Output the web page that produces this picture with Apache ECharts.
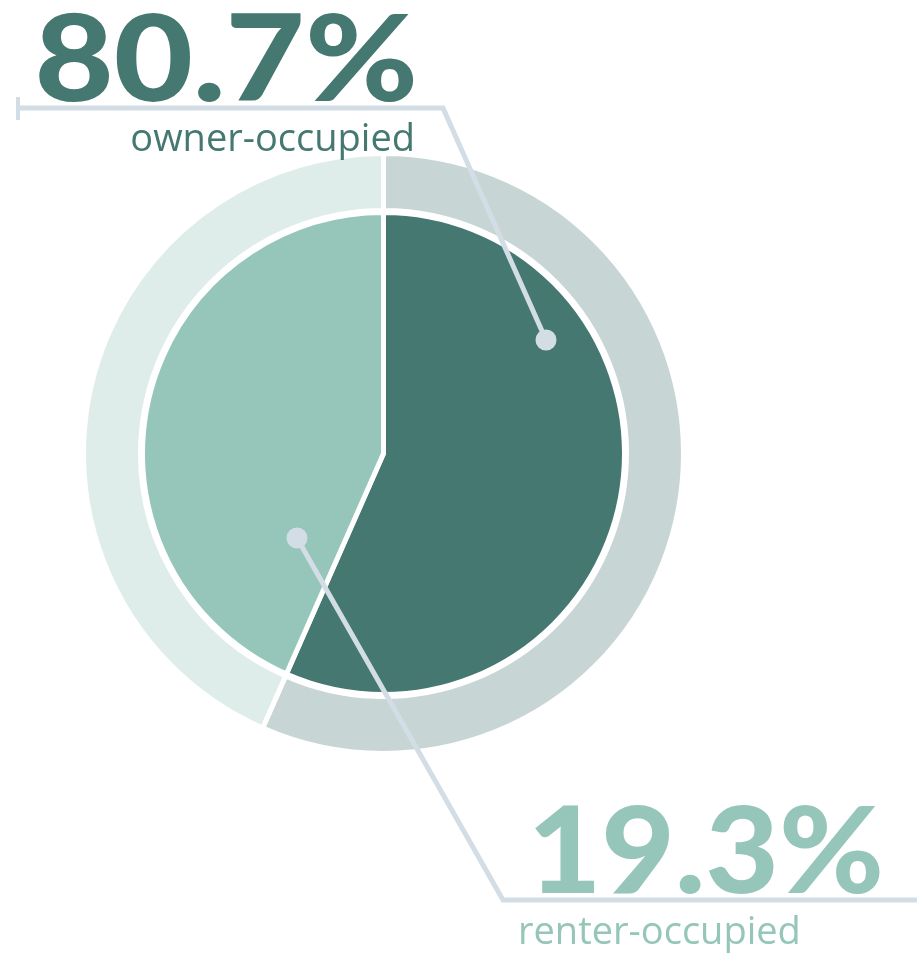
<!DOCTYPE html>
<html>
<head>
<meta charset="utf-8">
<script src="https://cdn.jsdelivr.net/npm/echarts@6/dist/echarts.min.js"></script>
<style>
  html, body { margin: 0; padding: 0; background: #fff; }
  #tenure { width: 917px; height: 953px; }
</style>
</head>
<body>
<div id="tenure"></div>
<script>
// housing tenure
var categories = ['owner-occupied', 'renter-occupied'];
// share of the circle each slice covers, as drawn
var sliceShares = [56.6, 43.4];
// headline figures printed beside the chart
var headlineValues = ['80.7%', '19.3%'];

var pieColors = ['#467872', '#95c6b9'];
var ringColors = ['#c7d6d5', '#deede9'];
var leaderColor = '#d3dde6';

var center = [383.5, 453.5];

function sliceData(colors) {
  return categories.map(function (name, i) {
    return { name: name, value: sliceShares[i], itemStyle: { color: colors[i] } };
  });
}

var myChart = echarts.init(document.getElementById('tenure'));
myChart.setOption({
  animation: false,
  series: [{
    // outer ring
    type: 'pie',
    silent: true,
    center: center,
    radius: [243, 300],
    startAngle: 90,
    clockwise: true,
    label: { show: false },
    labelLine: { show: false },
    itemStyle: { borderColor: '#fff', borderWidth: 5 },
    data: sliceData(ringColors)
  }, {
    // inner pie
    type: 'pie',
    silent: true,
    center: center,
    radius: [0, 241],
    startAngle: 90,
    clockwise: true,
    label: { show: false },
    labelLine: { show: false },
    itemStyle: { borderColor: '#fff', borderWidth: 5 },
    data: sliceData(pieColors)
  }],
  graphic: [
    { type: 'polyline', z: 10, shape: { points: [[546, 340], [443, 108], [18, 108]] },
      style: { stroke: leaderColor, lineWidth: 5, fill: null } },
    { type: 'line', z: 10, shape: { x1: 18, y1: 97, x2: 18, y2: 120 },
      style: { stroke: leaderColor, lineWidth: 4 } },
    { type: 'circle', z: 11, shape: { cx: 546, cy: 340, r: 10.5 }, style: { fill: leaderColor } },
    { type: 'polyline', z: 10, shape: { points: [[297, 538], [503, 900], [917, 900]] },
      style: { stroke: leaderColor, lineWidth: 5, fill: null } },
    { type: 'circle', z: 11, shape: { cx: 297, cy: 538, r: 10.5 }, style: { fill: leaderColor } },
    // big headline numbers, stretched a little to the width of the original typeface
    { type: 'text', z: 12, x: 418, y: 122, scaleX: 1.13,
      style: { text: headlineValues[0], fill: pieColors[0], fontFamily: 'Lato', fontWeight: 900,
               fontSize: 121, align: 'right', verticalAlign: 'bottom' } },
    { type: 'text', z: 12, x: 415, y: 140,
      style: { text: categories[0], fill: pieColors[0], fontFamily: 'Open Sans',
               fontSize: 38, align: 'right', verticalAlign: 'middle' } },
    { type: 'text', z: 12, x: 884, y: 914, scaleX: 1.05,
      style: { text: headlineValues[1], fill: pieColors[1], fontFamily: 'Lato', fontWeight: 900,
               fontSize: 121, align: 'right', verticalAlign: 'bottom' } },
    { type: 'text', z: 12, x: 518, y: 933,
      style: { text: categories[1], fill: pieColors[1], fontFamily: 'Open Sans',
               fontSize: 38, align: 'left', verticalAlign: 'middle' } }
  ]
});
</script>
</body>
</html>
